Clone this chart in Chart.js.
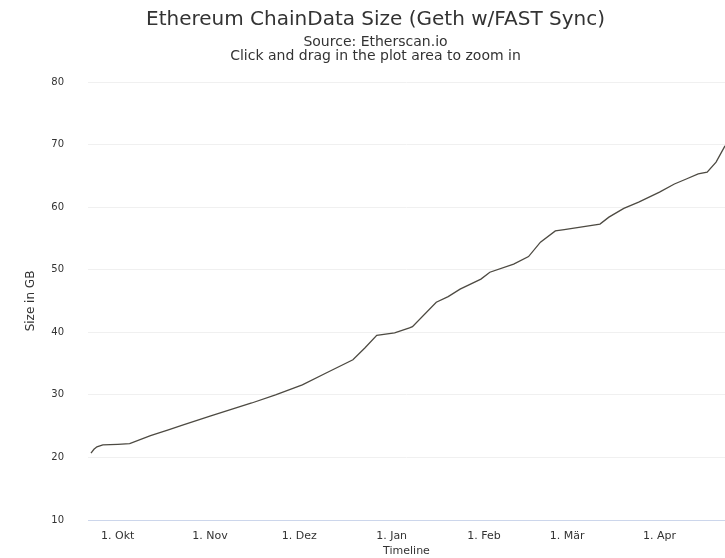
<!DOCTYPE html>
<html>
<head>
<meta charset="utf-8">
<script src="https://cdn.jsdelivr.net/npm/chart.js@4"></script>
<style>
  html, body { margin: 0; padding: 0; background: #fff; }
  #wrap { width: 725px; height: 558px; }
</style>
</head>
<body>
<div id="wrap"><canvas id="chart"></canvas></div>
<script>
// chaindata size readings (GB)
const dates = [
  '2017-09-22', '2017-09-23', '2017-09-24', '2017-09-26', '2017-10-01', '2017-10-05',
  '2017-10-12', '2017-10-18', '2017-10-23', '2017-11-01', '2017-11-15', '2017-11-23',
  '2017-12-02', '2017-12-10', '2017-12-19', '2017-12-23', '2017-12-27', '2018-01-02',
  '2018-01-07', '2018-01-08', '2018-01-16', '2018-01-20', '2018-01-24', '2018-01-31',
  '2018-02-03', '2018-02-11', '2018-02-16', '2018-02-20', '2018-02-25', '2018-02-28',
  '2018-03-12', '2018-03-15', '2018-03-20', '2018-03-25', '2018-04-01', '2018-04-06',
  '2018-04-10', '2018-04-14', '2018-04-17', '2018-04-20', '2018-04-23'
];
const sizes = [
  20.7, 21.3, 21.7, 22.0, 22.1, 22.2,
  23.5, 24.4, 25.2, 26.6, 28.7, 30.0,
  31.6, 33.5, 35.6, 37.5, 39.5, 39.9,
  40.7, 40.9, 44.8, 45.7, 46.9, 48.5,
  49.6, 50.9, 52.1, 54.4, 56.2, 56.4,
  57.3, 58.4, 59.8, 60.8, 62.4, 63.7,
  64.5, 65.3, 65.6, 67.2, 69.8
];
const tickDates = ['2017-10-01', '2017-11-01', '2017-12-01', '2018-01-01', '2018-02-01', '2018-03-01', '2018-04-01'];
const tickLabels = ['1. Okt', '1. Nov', '1. Dez', '1. Jan', '1. Feb', '1. Mär', '1. Apr'];
const yTicks = [10, 20, 30, 40, 50, 60, 70, 80];

// days since 2017-09-01
function dayNum(s) {
  const p = s.split('-').map(Number);
  return (Date.UTC(p[0], p[1] - 1, p[2]) - Date.UTC(2017, 8, 1)) / 86400000;
}

const points = dates.map((d, i) => ({ x: dayNum(d), y: sizes[i] }));
const tickDays = tickDates.map(dayNum);

const font = "'DejaVu Sans', 'Liberation Sans', sans-serif";

new Chart(document.getElementById('chart'), {
  type: 'line',
  data: {
    datasets: [{
      label: 'ChainData',
      data: points,
      borderColor: '#4d4a42',
      borderWidth: 1.3,
      pointRadius: 0,
      tension: 0,
      fill: false
    }]
  },
  options: {
    responsive: true,
    maintainAspectRatio: false,
    animation: false,
    layout: { padding: { left: 26, right: 0, top: 0, bottom: 0 } },
    plugins: {
      legend: { display: false },
      tooltip: { enabled: false },
      title: {
        display: true,
        text: 'Ethereum ChainData Size (Geth w/FAST Sync)',
        color: '#333333',
        font: { family: font, size: 20, weight: 'normal', lineHeight: 1.2 },
        padding: { top: 8, bottom: 3 }
      },
      subtitle: {
        display: true,
        text: ['Source: Etherscan.io', 'Click and drag in the plot area to zoom in'],
        color: '#333333',
        font: { family: font, size: 14, weight: 'normal', lineHeight: 1.0 },
        padding: { top: 0, bottom: 19 }
      }
    },
    scales: {
      x: {
        type: 'linear',
        min: dayNum('2017-09-21'),
        max: dayNum('2018-04-23'),
        afterBuildTicks: (scale) => { scale.ticks = tickDays.map(v => ({ value: v })); },
        afterFit: (scale) => { scale.height = 38; },
        ticks: {
          autoSkip: false,
          maxRotation: 0,
          color: '#333333',
          font: { family: font, size: 11 },
          padding: 2,
          callback: (v) => tickLabels[tickDays.indexOf(v)]
        },
        grid: { display: false, drawTicks: true, tickLength: 8, tickColor: '#ccd6eb' },
        border: { display: true, color: '#ccd6eb' },
        title: {
          display: true,
          text: 'Timeline',
          color: '#333333',
          font: { family: font, size: 11 },
          padding: { top: 0, bottom: 0 }
        }
      },
      y: {
        min: 10,
        max: 80,
        afterBuildTicks: (scale) => { scale.ticks = yTicks.map(v => ({ value: v })); },
        afterFit: (scale) => { scale.width = 62; },
        ticks: {
          color: '#333333',
          font: { family: font, size: 10 },
          padding: 24
        },
        grid: { color: '#f0f0f0', drawTicks: false },
        border: { display: false },
        title: {
          display: true,
          text: 'Size in GB',
          color: '#333333',
          font: { family: font, size: 12 },
          padding: { top: -2, bottom: 0 }
        }
      }
    }
  }
});
</script>
</body>
</html>
